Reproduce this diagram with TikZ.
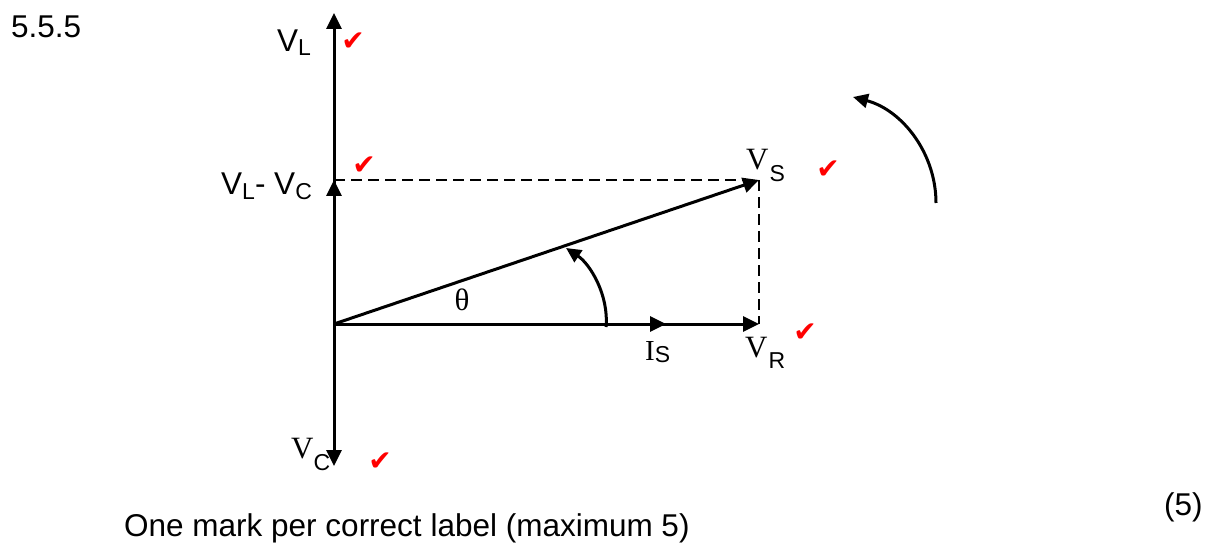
\documentclass[tikz,border=0pt]{standalone}
\usepackage{fontspec}
\setmainfont{Liberation Sans}
\newfontfamily\serifface{Liberation Serif}
\newfontfamily\dejavu{DejaVu Sans}
\usetikzlibrary{arrows.meta}
\newcommand{\mysub}[2]{\raisebox{-#1pt}{\fontsize{23}{23}\selectfont #2}}
\begin{document}
\begin{tikzpicture}[x=1pt,y=-1pt,
  vec/.style={line width=3pt,-{Triangle[length=16pt,width=15pt]}},
  guide/.style={line width=2.2pt,dash pattern=on 11pt off 6pt},
  curv/.style={line width=3pt,-{Triangle[length=15pt,width=14pt]}},
  lbl/.style={inner sep=0pt,anchor=base west,font=\fontsize{31.5}{31.5}\selectfont},
  vser/.style={font=\serifface\fontsize{31}{31}\selectfont},
  tick/.style={inner sep=0pt,text=red,font=\dejavu\fontsize{28}{28}\selectfont}]
\useasboundingbox (0,0) rectangle (1217,545);
% points
\coordinate (O) at (334,324);
\coordinate (VL) at (334,13);
\coordinate (VLVC) at (334,180);
\coordinate (VC) at (334,466);
\coordinate (VS) at (759,180);
\coordinate (VR) at (759,324);
\coordinate (IS) at (666,324);
\coordinate (a1) at (606,327);
\coordinate (a2) at (566,248);
\coordinate (r1) at (936,203);
\coordinate (r2) at (853,97);
% dashed guides
\draw[guide] (VLVC) -- (VS);
\draw[guide] (VS) -- (VR);
% vectors
\draw[vec] (O) -- (VL);
\draw[vec] (O) -- (VLVC);
\draw[vec] (O) -- (VC);
\draw[vec] (O) -- (VR);
\draw[vec] (O) -- (IS);
\draw[vec] (O) -- (VS);
% angle arc
\draw[curv] (a1) .. controls (609,295) and (590,264) .. (a2);
% rotation arc
\draw[curv] (r1) .. controls (936,153) and (902,110) .. (r2);
% labels
\node[lbl] (num) at (11,38) {5.5.5};
\node[lbl] (lVL) at (277,52) {V\mysub{4}{L}};
\node[lbl] (lVLVC) at (221,195) {V\mysub{5}{L}- V\mysub{5}{C}};
\node[lbl] (lVS) at (746,170) {{\serifface\fontsize{31}{31}\selectfont V}\kern1pt\mysub{12}{S}};
\node[lbl] (lVR) at (745,357) {{\serifface\fontsize{31}{31}\selectfont V}\kern1pt\mysub{11}{R}};
\node[lbl] (lIS) at (645,360) {{\serifface\fontsize{29}{29}\selectfont I}\mysub{2}{S}};
\node[lbl] (lVC) at (291,458) {{\serifface\fontsize{31}{31}\selectfont V}\mysub{12}{C}};
\node[inner sep=0pt,font=\serifface\fontsize{31}{31}\selectfont] (th) at (462,300) {θ};
\node[lbl] (note) at (124,536) {One mark per correct label (maximum 5)};
\node[lbl] (marks) at (1164,515) {(5)};
% ticks
\node[tick] (t1) at (353,42) {✔};
\node[tick] (t2) at (364,166) {✔};
\node[tick] (t3) at (828,170) {✔};
\node[tick] (t4) at (805,333) {✔};
\node[tick] (t5) at (380,462) {✔};
\end{tikzpicture}
\end{document}
